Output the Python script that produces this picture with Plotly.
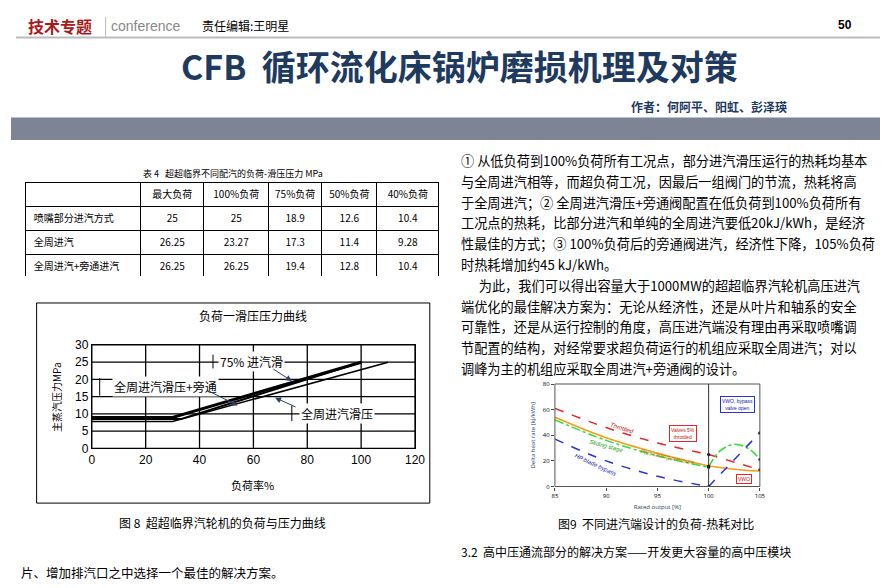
import plotly.graph_objects as go

W, H = 888, 588
def px(x): return x / W
def py(y): return 1 - y / H

# ---- main chart data (load vs sliding pressure) ----
load_bypass = [0, 30, 100]
p_bypass = [9.0, 9.0, 25.0]
load_75 = [0, 33, 100]
p_75 = [8.5, 8.5, 25.0]
load_full = [0, 30, 110]
p_full = [7.8, 7.8, 25.0]
x_ticks = [0, 20, 40, 60, 80, 100, 120]
y_ticks = [0, 5, 10, 15, 20, 25, 30]

# ---- small chart data (heat rate vs output) ----
out_x = [85, 90, 95, 100]
red_y = [61, 46, 34, 25]
orange_y = [54, 38, 26, 16]
green_y = [52, 36, 24, 15]
blue_y = [37, 20, 8, 0]
red_tail_x = [100, 105]; red_tail_y = [25, 13]
orange_tail_x = [100, 102.5, 105]; orange_tail_y = [16, 13.5, 12]
green_tail_x = [100, 101, 102.5, 104, 105]; green_tail_y = [15, 27, 33, 29, 21]
blue_tail_x = [100, 105]; blue_tail_y = [0, 42]

# ---- table data ----
tab_header = ["", "最大负荷", "100%负荷", "75%负荷", "50%负荷", "40%负荷"]
tab_rows = ["喷嘴部分进汽方式", "全周进汽", "全周进汽+旁通进汽"]
tab_vals = [["25", "25", "18.9", "12.6", "10.4"],
            ["26.25", "23.27", "17.3", "11.4", "9.28"],
            ["26.25", "26.25", "19.4", "12.8", "10.4"]]

text_lines = [
    "① 从低负荷到100%负荷所有工况点，部分进汽滑压运行的热耗均基本",
    "与全周进汽相等，而超负荷工况，因最后一组阀门的节流，热耗将高",
    "于全周进汽；② 全周进汽滑压+旁通阀配置在低负荷到100%负荷所有",
    "工况点的热耗，比部分进汽和单纯的全周进汽要低20kJ/kWh，是经济",
    "性最佳的方式；③ 100%负荷后的旁通阀进汽，经济性下降，105%负荷",
    "时热耗增加约45 kJ/kWh。",
    "      为此，我们可以得出容量大于1000MW的超超临界汽轮机高压进汽",
    "端优化的最佳解决方案为：无论从经济性，还是从叶片和轴系的安全",
    "可靠性，还是从运行控制的角度，高压进汽端没有理由再采取喷嘴调",
    "节配置的结构，对经常要求超负荷运行的机组应采取全周进汽；对以",
    "调峰为主的机组应采取全周进汽+旁通阀的设计。",
]

F = "Noto Sans CJK SC"
fig = go.Figure()

# grid drawn as individual line segments from the tick lists
for xv in x_ticks:
    fig.add_trace(go.Scatter(x=[xv, xv], y=[y_ticks[0], y_ticks[-1]], mode="lines",
                             line=dict(color="#000000", width=1.3), showlegend=False, hoverinfo="skip"))
for yv in y_ticks:
    fig.add_trace(go.Scatter(x=[x_ticks[0], x_ticks[-1]], y=[yv, yv], mode="lines",
                             line=dict(color="#000000", width=1.3), showlegend=False, hoverinfo="skip"))

fig.add_trace(go.Scatter(x=load_full, y=p_full, mode="lines", line=dict(color="black", width=1.5), showlegend=False))
fig.add_trace(go.Scatter(x=load_75, y=p_75, mode="lines", line=dict(color="black", width=2), showlegend=False))
fig.add_trace(go.Scatter(x=load_bypass, y=p_bypass, mode="lines", line=dict(color="black", width=3), showlegend=False))

def s(x, y, color, dash, w=1.5):
    fig.add_trace(go.Scatter(x=x, y=y, mode="lines", line=dict(color=color, dash=dash, width=w, shape="spline"),
                             xaxis="x2", yaxis="y2", showlegend=False))
s(out_x, red_y, "#e8262a", "dash")
s(red_tail_x, red_tail_y, "#e8262a", "dash")
s(out_x, orange_y, "#f39c1d", "solid")
s(orange_tail_x, orange_tail_y, "#f39c1d", "solid")
s(out_x, green_y, "#2ee02e", "dashdot")
s(green_tail_x, green_tail_y, "#2ee02e", "dashdot")
s(out_x, blue_y, "#2436d8", "dash")
s(blue_tail_x, blue_tail_y, "#2436d8", "dash")
fig.add_trace(go.Scatter(x=[100, 100, 100, 100, 105, 105, 105], y=[25, 16, 15, 0, 13, 21, 42], mode="markers",
                         marker=dict(color="black", size=3), xaxis="x2", yaxis="y2", showlegend=False))

cells_cols = [tab_rows] + [[r[i] for r in tab_vals] for i in range(5)]
fig.add_trace(go.Table(
    domain=dict(x=[px(15), px(435)], y=[py(268), py(172)]),
    columnwidth=[117, 64, 66, 54, 56, 63],
    header=dict(values=tab_header, height=24, line=dict(color="black", width=1), fill=dict(color="white"),
                font=dict(family=F, size=10, color="black"), align="center"),
    cells=dict(values=cells_cols, height=24, line=dict(color="black", width=1), fill=dict(color="white"),
               font=dict(family=F, size=10, color="black"), align=["left"] + ["center"] * 5)))

shapes = [
    dict(type="line", xref="paper", yref="paper", x0=px(5), x1=px(888), y0=py(23), y1=py(23), line=dict(color="#bbbbbb", width=2)),
    dict(type="line", xref="paper", yref="paper", x0=px(96), x1=px(96), y0=py(2), y1=py(22), line=dict(color="#bbbbbb", width=1)),
    dict(type="rect", xref="paper", yref="paper", x0=0, x1=1, y0=py(128), y1=py(105), fillcolor="#7d8595", line=dict(width=0), layer="below"),
    dict(type="rect", xref="paper", yref="paper", x0=px(26), x1=px(425), y0=py(500), y1=py(295), line=dict(color="black", width=1), layer="below"),
    dict(type="rect", xref="x2 domain", yref="y2 domain", x0=0, x1=1, y0=0, y1=1, line=dict(color="#555", width=1)),
    dict(type="line", xref="x2", yref="y2", x0=100, x1=100, y0=0, y1=80, line=dict(color="#333", width=1)),
    dict(type="line", xref="paper", yref="paper", x0=px(205), x1=px(205), y0=py(348), y1=py(362), line=dict(color="black", width=1)),
    dict(type="line", xref="paper", yref="paper", x0=px(90), x1=px(90), y0=py(372), y1=py(390), line=dict(color="black", width=1)),
    dict(type="line", xref="paper", yref="paper", x0=px(285), x1=px(285), y0=py(400), y1=py(416), line=dict(color="black", width=1)),
]

ann = []
def T(x, y, t, size=12, color="black", xa="left", ya="middle", **kw):
    ann.append(dict(x=px(x), y=py(y), xref="paper", yref="paper", text=t, showarrow=False,
                    xanchor=xa, yanchor=ya, font=dict(family=kw.pop("family", F), size=size, color=color), **kw))

T(15, 11, "<b>技术专题</b>", 16, "#b01818")
T(99, 11, "conference", 14, "#888888", family="Liberation Sans")
T(192, 11, "责任编辑:王明星", 12)
T(856, 10, "<b>50</b>", 12, xa="right", family="Liberation Sans")
T(455, 52, "<b>CFB  循环流化床锅炉磨损机理及对策</b>", 34, "#1e3a5f", xa="center")
T(790, 94, "<b>作者：何阿平、阳虹、彭泽瑛</b>", 12, "#1e3a5f", xa="right")
T(225, 162, "表 4   超超临界不同配汽的负荷-滑压压力 MPa", 9, xa="center")
for i, line in enumerate(text_lines):
    T(455, 149 + i * 21.3, line, 13.2)
T(655, 521, "图9  不同进汽端设计的负荷-热耗对比", 12, xa="center")
T(455, 550, "3.2  高中压通流部分的解决方案——开发更大容量的高中压模块", 12)
T(215, 520, "图 8  超超临界汽轮机的负荷与压力曲线", 12, xa="center")
T(8, 571, "片、增加排汽口之中选择一个最佳的解决方案。", 12.5)

T(246, 308, "负荷一滑压压力曲线", 12, xa="center")
T(245, 481, "负荷率%", 11, xa="center")
T(46, 391, "主蒸汽压力MPa", 10, xa="center", textangle=-90)
T(210, 355, "75% 进汽滑", 12, bgcolor="white")
T(102, 381, "全周进汽滑压+旁通", 12, bgcolor="white")
T(292, 408, "全周进汽滑压", 12, bgcolor="white")
for (x0, y0, x1, y1) in [(265, 362, 285, 375), (200, 385, 230, 400), (290, 402, 268, 392)]:
    ann.append(dict(x=px(x1), y=py(y1), ax=x0 - x1, ay=y0 - y1, xref="paper", yref="paper",
                    showarrow=True, arrowhead=2, arrowsize=1.2, arrowwidth=1, text=""))

def S(x, y, t, color, size=6, **kw):
    ann.append(dict(x=x, y=y, xref="x2", yref="y2", text=t, showarrow=False, font=dict(family="Liberation Sans", size=size, color=color), **kw))
S(91.5, 46, "<i>Throttled</i>", "#c01010", textangle=18)
S(90, 32, "<i>Sliding stage</i>", "#20a020", textangle=15)
S(96, 23, "<i>Part sliding pressure</i>", "#b07000", textangle=12)
S(89, 17, "<i>HP blade bypass</i>", "#1020b0", textangle=25)
S(97.5, 41, "Valves 5%<br>throttled", "#c01010", 5, bordercolor="#e8262a", bgcolor="white")
S(102.8, 64, "VWO, bypass<br>valve open", "#1020b0", 5, bordercolor="#2436d8", bgcolor="white")
S(103.5, 6, "VWO", "#c01010", 5, bordercolor="#e8262a", bgcolor="white")

fig.update_layout(
    width=W, height=H, margin=dict(l=0, r=0, t=0, b=0), paper_bgcolor="white", plot_bgcolor="white",
    shapes=shapes, annotations=ann,
    xaxis=dict(domain=[px(82), px(410)], anchor="y", range=[0, 120], tickvals=x_ticks, showgrid=False,
               zeroline=False, showline=True, linecolor="black", mirror=True,
               tickfont=dict(family="Liberation Sans", size=12, color="black")),
    yaxis=dict(domain=[py(444), py(338)], anchor="x", range=[0, 30], tickvals=y_ticks, showgrid=False,
               zeroline=False, showline=True, linecolor="black", mirror=True,
               tickfont=dict(family="Liberation Sans", size=12, color="black")),
    xaxis2=dict(domain=[px(552), px(760)], anchor="y2", range=[85, 105], tickvals=[85, 90, 95, 100, 105],
                showgrid=False, zeroline=False, ticks="outside", ticklen=3, tickfont=dict(size=6, color="black"),
                title=dict(text="Rated output [%]", font=dict(size=6), standoff=6)),
    yaxis2=dict(domain=[py(483), py(378)], anchor="x2", range=[0, 80], dtick=20, showgrid=False, zeroline=False,
                ticks="outside", ticklen=3, tickfont=dict(size=6, color="black"),
                title=dict(text="Delta heat rate [kJ/kWh]", font=dict(size=6), standoff=6)),
)
fig.write_html("out.html")
